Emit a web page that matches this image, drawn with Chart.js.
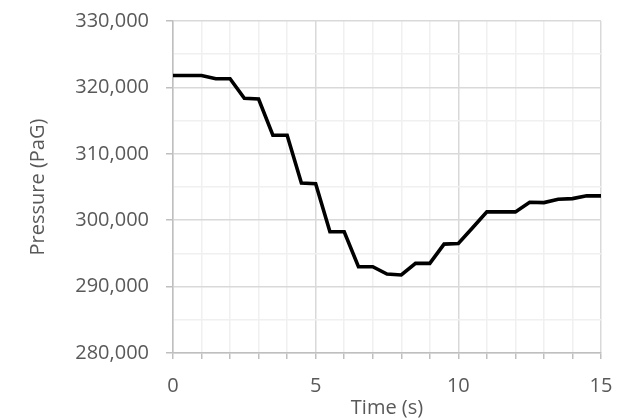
<!DOCTYPE html>
<html>
<head>
<meta charset="utf-8">
<script src="https://cdn.jsdelivr.net/npm/chart.js@4/dist/chart.umd.min.js"></script>
<style>
  html, body { margin: 0; padding: 0; background: #ffffff; }
  #wrap { width: 620px; height: 420px; }
</style>
</head>
<body>
<div id="wrap"><canvas id="chart" width="620" height="420"></canvas></div>
<script>
// Time samples (s), every half second
const timeSeconds = [0, 0.5, 1, 1.5, 2, 2.5, 3, 3.5, 4, 4.5, 5, 5.5, 6, 6.5, 7, 7.5,
  8, 8.5, 9, 9.5, 10, 10.5, 11, 11.5, 12, 12.5, 13, 13.5, 14, 14.5, 15];

// Gauge pressure (Pa) at each sample
const pressurePaG = [321800, 321800, 321800, 321300, 321300, 318350, 318250, 312800,
  312800, 305600, 305500, 298250, 298250, 293000, 293000, 291900,
  291750, 293500, 293500, 296400, 296500, 298850, 301250, 301250,
  301250, 302700, 302650, 303150, 303250, 303670, 303670];

// Axis settings
const xRange = [0, 15];
const xLabelEvery = 5;
const yRange = [280000, 330000];
const yLabelEvery = 10000;
const yMinorStep = 5000;

const points = timeSeconds.map((t, i) => ({ x: t, y: pressurePaG[i] }));

const tickFont = { family: "'Open Sans', 'Noto Sans', sans-serif", size: 20 };
const textColor = '#595959';
const majorGrid = '#d9d9d9';
const minorGrid = '#f0f0f0';
const axisLine = '#bfbfbf';

const isMultiple = (v, step) => Math.abs(v / step - Math.round(v / step)) < 1e-9;

new Chart(document.getElementById('chart'), {
  type: 'line',
  data: {
    datasets: [{
      data: points,
      borderColor: '#000000',
      borderWidth: 3.6,
      pointRadius: 0,
      tension: 0,
      fill: false,
      borderJoinStyle: 'miter'
    }]
  },
  options: {
    responsive: false,
    animation: false,
    events: [],
    layout: { padding: { left: 0, right: 19, top: 21, bottom: 0 } },
    plugins: { legend: { display: false }, tooltip: { enabled: false } },
    scales: {
      x: {
        type: 'linear',
        min: xRange[0],
        max: xRange[1],
        ticks: {
          stepSize: 1,
          color: textColor,
          font: tickFont,
          padding: 15,
          maxRotation: 0,
          autoSkip: false,
          callback: v => isMultiple(v, xLabelEvery) ? String(v) : ''
        },
        grid: {
          color: c => isMultiple(c.tick.value, xLabelEvery) ? majorGrid : minorGrid,
          tickColor: axisLine,
          tickLength: 6,
          lineWidth: 1.5
        },
        border: { color: axisLine, width: 1.5 },
        title: {
          display: true,
          text: 'Time (s)',
          color: textColor,
          font: tickFont,
          padding: { top: 0, bottom: 0 }
        },
        afterFit: s => {
          s.height = 67;
          s.paddingLeft = 0;
          s.paddingRight = 0;
        }
      },
      y: {
        type: 'linear',
        min: yRange[0],
        max: yRange[1],
        ticks: {
          stepSize: yMinorStep,
          color: textColor,
          font: tickFont,
          padding: 17,
          autoSkip: false,
          callback: v => isMultiple(v, yLabelEvery) ? v.toLocaleString('en-US') : ''
        },
        grid: {
          color: c => isMultiple(c.tick.value, yLabelEvery) ? majorGrid : minorGrid,
          tickColor: c => isMultiple(c.tick.value, yLabelEvery) ? axisLine : 'rgba(0,0,0,0)',
          tickLength: 7,
          lineWidth: 1.5
        },
        border: { color: axisLine, width: 1.5 },
        title: {
          display: true,
          text: 'Pressure (PaG)',
          color: textColor,
          font: tickFont,
          padding: { top: 26, bottom: 0 }
        },
        afterFit: s => {
          s.width = 173;
          s.paddingTop = 0;
          s.paddingBottom = 0;
        }
      }
    }
  }
});
</script>
</body>
</html>
